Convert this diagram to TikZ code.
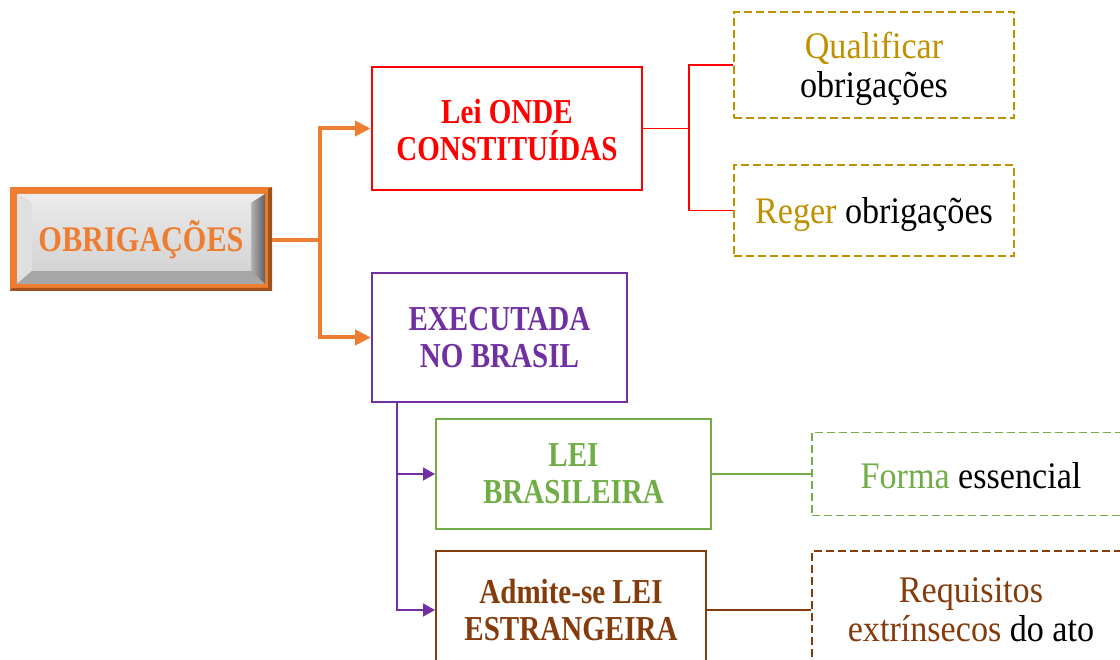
\documentclass[tikz,border=0pt]{standalone}
\usepackage{fontspec}
\setmainfont{Liberation Serif}
\newfontfamily\hdfont[FakeStretch=0.83]{Liberation Serif}
\newfontfamily\obfont[FakeStretch=0.84]{Liberation Serif}
\newfontfamily\txfont[FakeStretch=0.91]{Liberation Serif}
\usetikzlibrary{arrows.meta}
\definecolor{orng}{HTML}{ED7D31}
\definecolor{orngdk}{HTML}{A0521C}
\definecolor{redc}{HTML}{FF0000}
\definecolor{goldc}{HTML}{BF9000}
\definecolor{purp}{HTML}{7030A0}
\definecolor{grn}{HTML}{70AD47}
\definecolor{brn}{HTML}{843C0C}
\newcommand{\lowr}[2]{\raisebox{-#1}[\height][\depth]{#2}}
\begin{document}
\begin{tikzpicture}[x=1pt,y=-1pt,
  hd/.style={draw, line width=2.5pt, rectangle, align=center, inner sep=0pt,
    font=\hdfont\bfseries\fontsize{35}{37}\selectfont},
  dbox/.style={draw, line width=2pt, rectangle, align=center, inner sep=0pt,
    dash pattern=on 8pt off 4pt, font=\txfont\fontsize{37.5}{39}\selectfont},
  oarrow/.style={line width=4pt, orng, -{Triangle[length=16pt,width=15pt]}},
  parrow/.style={line width=1.5pt, purp, -{Triangle[length=12pt,width=13pt]}},
  thinl/.style={line width=1.4pt}
]
\useasboundingbox (0,0) rectangle (1120,660);
\clip (0,0) rectangle (1120,660);

% OBRIGACOES bevel box
\fill[orng] (10,187) rectangle (272,291);
\fill[orngdk] (268,189) -- (272,187) -- (272,291) -- (10,291) -- (12,288) -- (268,288) -- cycle;
\fill[black!8] (17,194) -- (265,194) -- (251,203) -- (32,203) -- cycle;
\fill[black!12] (17,194) -- (32,203) -- (32,271) -- (17,284) -- cycle;
\shade[left color=black!30, right color=black!62] (265,194) -- (251,203) -- (251,271) -- (265,284) -- cycle;
\fill[black!35] (17,284) -- (32,271) -- (251,271) -- (265,284) -- cycle;
\shade[top color=black!9, bottom color=black!17] (32,203) rectangle (251,271);
\node[minimum width=262pt, minimum height=104pt, inner sep=0pt, text=orng,
  font=\obfont\bfseries\fontsize{36}{36}\selectfont] (obr) at (141,240) {OBRIGAÇÕES};

% level 1
\node[hd, redc, minimum width=270pt, minimum height=123pt] (lei) at (507,128.5)
  {\lowr{2pt}{Lei ONDE}\\\lowr{2pt}{CONSTITUÍDAS}};
\node[hd, purp, line width=2pt, minimum width=255pt, minimum height=129pt] (exec) at (499.5,337.5) {EXECUTADA\\NO BRASIL};

% dashed boxes right of lei
\node[dbox, goldc, minimum width=280pt, minimum height=106pt] (qual) at (874,65)
  {\lowr{4pt}{\textcolor{goldc}{Qualificar}}\\\lowr{4pt}{\textcolor{black}{obrigações}}};
\node[dbox, goldc, minimum width=280pt, minimum height=91pt] (reger) at (874,210.5)
  {\lowr{4pt}{\textcolor{goldc}{Reger} \textcolor{black}{obrigações}}};

% level 2 under exec
\node[hd, grn, line width=2pt, minimum width=275pt, minimum height=110pt] (bras) at (573.5,474) {LEI\\BRASILEIRA};
\node[hd, brn, line width=2pt, minimum width=270pt, minimum height=118pt] (estr) at (571,610) {Admite-se LEI\\ESTRANGEIRA};

\node[dbox, grn, line width=1.6pt, minimum width=318pt, minimum height=83pt] (forma) at (971,474)
  {\lowr{2pt}{\textcolor{grn}{Forma} \textcolor{black}{essencial}}};
\node[dbox, brn, line width=1.6pt, minimum width=318pt, minimum height=118pt] (req) at (971,610)
  {\textcolor{brn}{Requisitos}\\\textcolor{brn}{extrínsecos} \textcolor{black}{do ato}};

% connectors
\coordinate (oj) at (320,240);
\draw[oarrow] (obr.east) -- (oj) |- (lei.west);
\draw[oarrow] (oj) |- (exec.west);

\coordinate (rj) at (689,128.5);
\draw[thinl, redc] (lei.east) -- (rj) |- (qual.west);
\draw[thinl, redc] (rj) |- (reger.west);

\coordinate (pj) at ([xshift=26pt]exec.south west);
\draw[parrow] (pj) |- (bras.west);
\draw[parrow] (pj) |- (estr.west);

\draw[thinl, line width=1.2pt, grn] (bras.east) -- (forma.west);
\draw[thinl, line width=1.2pt, brn] (estr.east) -- (req.west);
\end{tikzpicture}
\end{document}
